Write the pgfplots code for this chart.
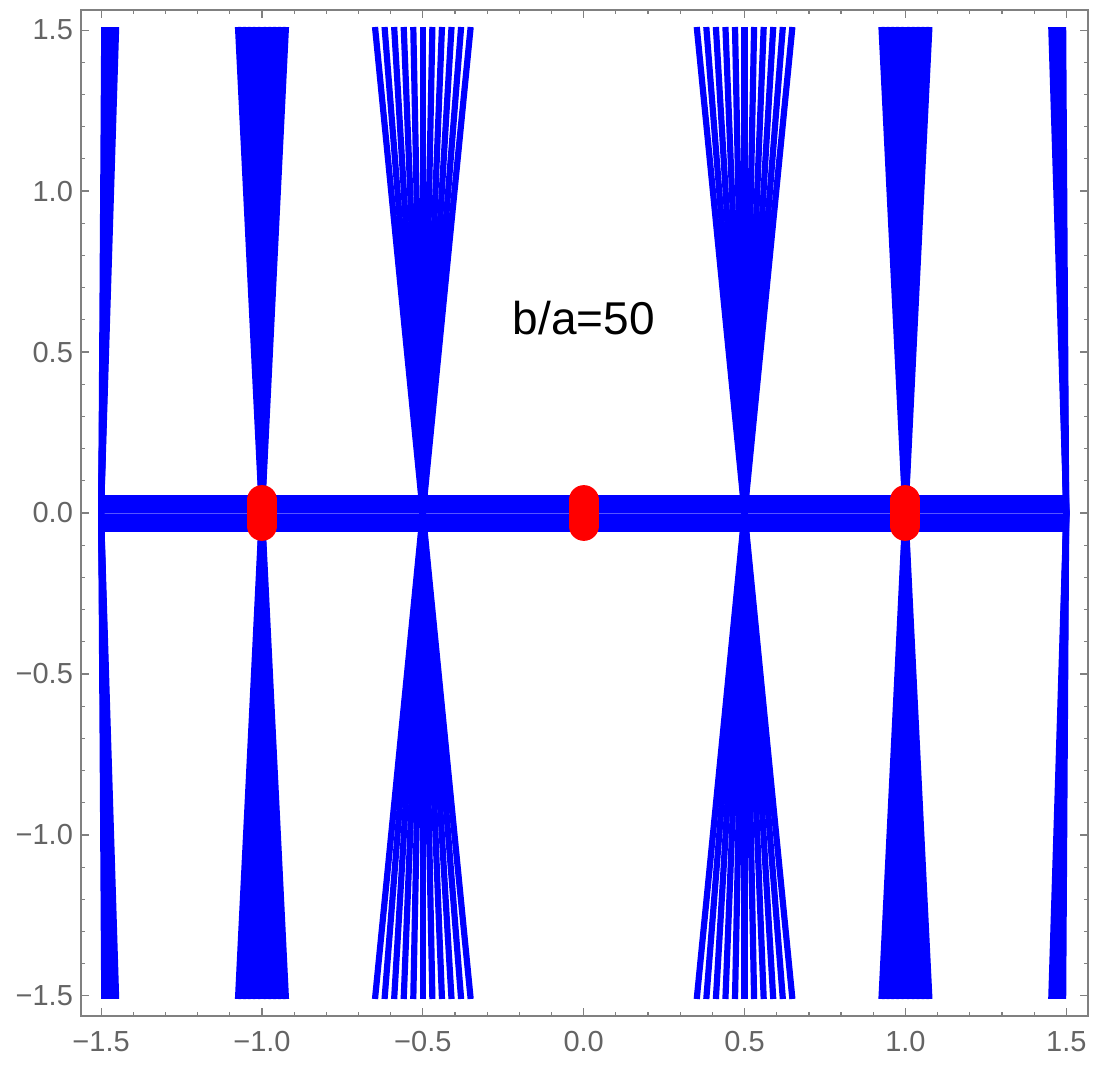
\documentclass[border=0pt]{standalone}
\usepackage{fontspec}
\setmainfont{Liberation Sans}
\usepackage{pgfplots}
\pgfplotsset{compat=1.18}
\definecolor{framegray}{RGB}{128,128,128}
\definecolor{labgray}{RGB}{100,100,100}
\definecolor{pblue}{RGB}{0,0,255}
\definecolor{lblue}{RGB}{85,85,255}
\definecolor{pred}{RGB}{255,0,0}
\begin{document}
\begin{tikzpicture}
\begin{axis}[
  scale only axis, width=503.5pt, height=503pt,
  xmin=-1.5625, xmax=1.5675, ymin=-1.5625, ymax=1.5625,
  xtick={-1.5,-1,-0.5,0,0.5,1,1.5},
  ytick={-1.5,-1,-0.5,0,0.5,1,1.5},
  xticklabels={−1.5,−1.0,−0.5,0.0,0.5,1.0,1.5},
  yticklabels={−1.5,−1.0,−0.5,0.0,0.5,1.0,1.5},
  minor x tick num=4, minor y tick num=4,
  tick align=inside,
  major tick length=4pt, minor tick length=2.2pt,
  axis line style={framegray, line width=0.7pt},
  every tick/.style={framegray, line width=0.6pt},
  ticklabel style={font=\fontsize{14.5}{16}\selectfont, text=labgray},
  xticklabel style={yshift=-4.3pt},
  yticklabel style={xshift=-0.5pt},
  clip=false,
]
% horizontal band
\addplot[draw=none, fill=pblue] coordinates {(-1.493,-0.058) (1.493,-0.058) (1.493,0.056) (-1.493,0.056)} -- cycle;
\addplot[lblue, line width=0.45pt] coordinates {(-1.493,0) (1.493,0)};
% group at -1
\pgfplotsset{vl/.style={pblue, line width=3.1pt, line cap=rect}}
\addplot[vl] coordinates {(-0.9260,-1.5) (-1.0740,1.5)};
\addplot[vl] coordinates {(-0.9408,-1.5) (-1.0592,1.5)};
\addplot[vl] coordinates {(-0.9556,-1.5) (-1.0444,1.5)};
\addplot[vl] coordinates {(-0.9704,-1.5) (-1.0296,1.5)};
\addplot[vl] coordinates {(-0.9852,-1.5) (-1.0148,1.5)};
\addplot[vl] coordinates {(-1.0000,-1.5) (-1.0000,1.5)};
\addplot[vl] coordinates {(-1.0148,-1.5) (-0.9852,1.5)};
\addplot[vl] coordinates {(-1.0296,-1.5) (-0.9704,1.5)};
\addplot[vl] coordinates {(-1.0444,-1.5) (-0.9556,1.5)};
\addplot[vl] coordinates {(-1.0592,-1.5) (-0.9408,1.5)};
\addplot[vl] coordinates {(-1.0740,-1.5) (-0.9260,1.5)};
% group at 1
\addplot[vl] coordinates {(1.0740,-1.5) (0.9260,1.5)};
\addplot[vl] coordinates {(1.0592,-1.5) (0.9408,1.5)};
\addplot[vl] coordinates {(1.0444,-1.5) (0.9556,1.5)};
\addplot[vl] coordinates {(1.0296,-1.5) (0.9704,1.5)};
\addplot[vl] coordinates {(1.0148,-1.5) (0.9852,1.5)};
\addplot[vl] coordinates {(1.0000,-1.5) (1.0000,1.5)};
\addplot[vl] coordinates {(0.9852,-1.5) (1.0148,1.5)};
\addplot[vl] coordinates {(0.9704,-1.5) (1.0296,1.5)};
\addplot[vl] coordinates {(0.9556,-1.5) (1.0444,1.5)};
\addplot[vl] coordinates {(0.9408,-1.5) (1.0592,1.5)};
\addplot[vl] coordinates {(0.9260,-1.5) (1.0740,1.5)};
% group at -0.5
\addplot[vl] coordinates {(-0.3523,-1.5) (-0.6477,1.5)};
\addplot[vl] coordinates {(-0.3818,-1.5) (-0.6182,1.5)};
\addplot[vl] coordinates {(-0.4114,-1.5) (-0.5886,1.5)};
\addplot[vl] coordinates {(-0.4409,-1.5) (-0.5591,1.5)};
\addplot[vl] coordinates {(-0.4705,-1.5) (-0.5295,1.5)};
\addplot[vl] coordinates {(-0.5000,-1.5) (-0.5000,1.5)};
\addplot[vl] coordinates {(-0.5295,-1.5) (-0.4705,1.5)};
\addplot[vl] coordinates {(-0.5591,-1.5) (-0.4409,1.5)};
\addplot[vl] coordinates {(-0.5886,-1.5) (-0.4114,1.5)};
\addplot[vl] coordinates {(-0.6182,-1.5) (-0.3818,1.5)};
\addplot[vl] coordinates {(-0.6477,-1.5) (-0.3523,1.5)};
% group at 0.5
\addplot[vl] coordinates {(0.6477,-1.5) (0.3523,1.5)};
\addplot[vl] coordinates {(0.6182,-1.5) (0.3818,1.5)};
\addplot[vl] coordinates {(0.5886,-1.5) (0.4114,1.5)};
\addplot[vl] coordinates {(0.5591,-1.5) (0.4409,1.5)};
\addplot[vl] coordinates {(0.5295,-1.5) (0.4705,1.5)};
\addplot[vl] coordinates {(0.5000,-1.5) (0.5000,1.5)};
\addplot[vl] coordinates {(0.4705,-1.5) (0.5295,1.5)};
\addplot[vl] coordinates {(0.4409,-1.5) (0.5591,1.5)};
\addplot[vl] coordinates {(0.4114,-1.5) (0.5886,1.5)};
\addplot[vl] coordinates {(0.3818,-1.5) (0.6182,1.5)};
\addplot[vl] coordinates {(0.3523,-1.5) (0.6477,1.5)};
% group at -1.5 (V shapes)
\pgfplotsset{vv/.style={pblue, line width=3pt, line cap=rect, line join=bevel}}
\addplot[vv] coordinates {(-1.4905,-1.5) (-1.5,0) (-1.4905,1.5)};
\addplot[vv] coordinates {(-1.4852,-1.5) (-1.5,0) (-1.4852,1.5)};
\addplot[vv] coordinates {(-1.4800,-1.5) (-1.5,0) (-1.4800,1.5)};
\addplot[vv] coordinates {(-1.4747,-1.5) (-1.5,0) (-1.4747,1.5)};
\addplot[vv] coordinates {(-1.4695,-1.5) (-1.5,0) (-1.4695,1.5)};
\addplot[vv] coordinates {(-1.4642,-1.5) (-1.5,0) (-1.4642,1.5)};
\addplot[vv] coordinates {(-1.4590,-1.5) (-1.5,0) (-1.4590,1.5)};
\addplot[vv] coordinates {(-1.4533,-1.5) (-1.5,0) (-1.4533,1.5)};
% group at 1.5 (V shapes)
\addplot[vv] coordinates {(1.4905,-1.5) (1.5,0) (1.4905,1.5)};
\addplot[vv] coordinates {(1.4852,-1.5) (1.5,0) (1.4852,1.5)};
\addplot[vv] coordinates {(1.4800,-1.5) (1.5,0) (1.4800,1.5)};
\addplot[vv] coordinates {(1.4747,-1.5) (1.5,0) (1.4747,1.5)};
\addplot[vv] coordinates {(1.4695,-1.5) (1.5,0) (1.4695,1.5)};
\addplot[vv] coordinates {(1.4642,-1.5) (1.5,0) (1.4642,1.5)};
\addplot[vv] coordinates {(1.4590,-1.5) (1.5,0) (1.4590,1.5)};
\addplot[vv] coordinates {(1.4533,-1.5) (1.5,0) (1.4533,1.5)};
% red markers
\addplot[pred, line width=15pt, line cap=round] coordinates {(-1,-0.04) (-1,0.04)};
\addplot[pred, line width=15pt, line cap=round] coordinates {(0,-0.04) (0,0.04)};
\addplot[pred, line width=15pt, line cap=round] coordinates {(1,-0.04) (1,0.04)};
\node[anchor=base, font=\fontsize{23}{26}\selectfont, text=black] at (axis cs:0,0.553) {b/a=50};
\end{axis}
\pgfresetboundingbox
\path (-40.5pt,-25pt) rectangle (507pt,508pt);
\end{tikzpicture}
\end{document}
